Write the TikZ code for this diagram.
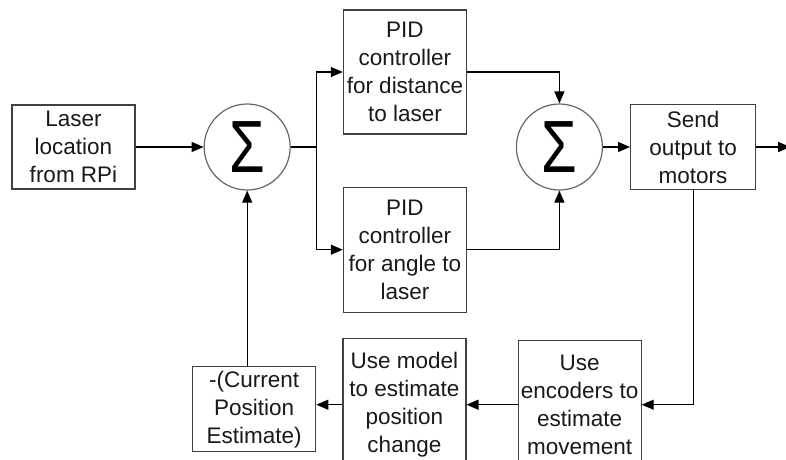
\documentclass[tikz,border=0pt]{standalone}
\usepackage{fontspec}
\setmainfont{Liberation Sans}
\usetikzlibrary{arrows.meta, positioning}

\begin{document}
\begin{tikzpicture}[x=1pt, y=1pt,
  every node/.style={align=center, font=\fontsize{22.5}{28}\selectfont, text=black!90},
  block/.style={draw=black!75, line width=1.2pt, minimum width=123pt, inner sep=0pt},
  summer/.style={circle, draw=black!60, line width=1.2pt, minimum size=86pt, inner sep=0pt, font=\fontsize{74}{74}\selectfont, text=black},
  link/.style={line width=1.2pt, -{Triangle[length=12pt, width=10pt]}}]
\useasboundingbox (0,0) rectangle (786,-459);

% Forward path
\node (laser) [block, minimum height=84pt] at (73.5,-147) {Laser\\location\\from RPi};
\node (sum1) [summer, right=68pt of laser] {\scalebox{0.78}[1]{Σ}};
\node (pidd) [block, right=52pt of sum1, yshift=75pt, minimum height=124pt] {PID\\controller\\for distance\\to laser};
\node (pida) [block, below=52pt of pidd, minimum height=125pt] {PID\\controller\\for angle to\\laser};
\node (sum2) [summer, right=225pt of sum1] {\scalebox{0.78}[1]{Σ}};
\node (send) [block, right=27pt of sum2, minimum width=125pt, minimum height=85pt] {Send\\output to\\motors};

% Feedback path
\node (enc) [block, below=150pt of send, xshift=-113.5pt, minimum height=128pt] {Use\\encoders to\\estimate\\movement};
\node (model) [block, left=51pt of enc, minimum height=132pt] {Use model\\to estimate\\position\\change};
\node (cur) [block, left=26pt of model, yshift=-4.5pt, minimum height=85pt] {-(Current\\Position\\Estimate)};

\coordinate [right=26pt of sum1] (split);
\coordinate [right=34pt of send] (out);

% Arrows
\draw[link] (laser) -- (sum1);
\draw[link] (sum1.east) -- (split) |- (pidd.west);
\draw[link] (split) |- (pida.west);
\draw[link] (pidd.east) -| (sum2.north);
\draw[link] (pida.east) -| (sum2.south);
\draw[link] (sum2) -- (send);
\draw[link] (send) -- (out);
\draw[link] (send.south) |- (enc.east);
\draw[link] (enc) -- (model);
\draw[link] (model.west) -- (model.west -| cur.east);
\draw[link] (sum1.south |- cur.north) -- (sum1.south);
\end{tikzpicture}
\end{document}
